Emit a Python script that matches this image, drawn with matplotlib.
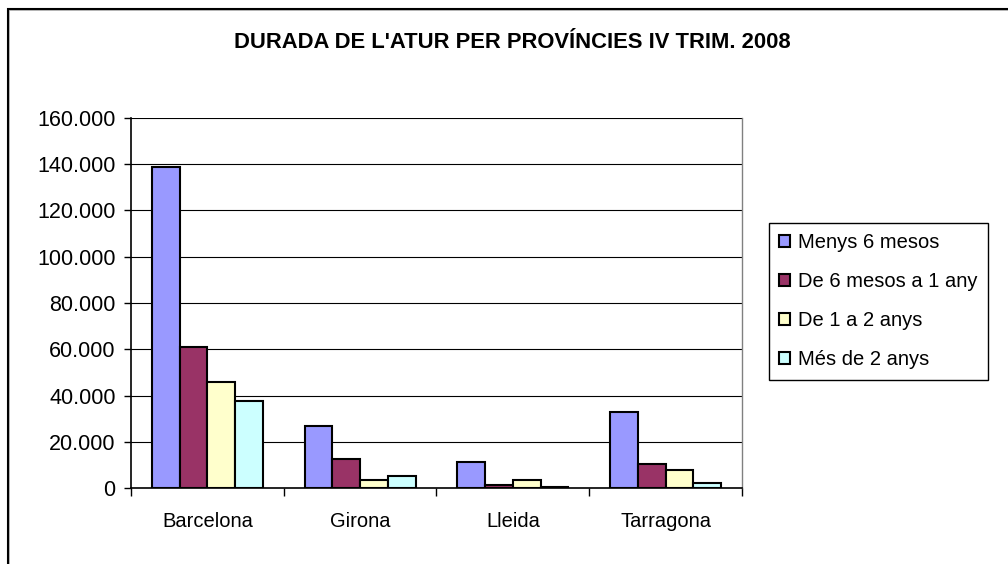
import matplotlib.pyplot as plt
import matplotlib.patches as patches
from matplotlib.ticker import FuncFormatter
import numpy as np

plt.rcParams['font.family'] = ['Liberation Sans', 'DejaVu Sans']

provincies = ['Barcelona', 'Girona', 'Lleida', 'Tarragona']
series = ['Menys 6 mesos', 'De 6 mesos a 1 any', 'De 1 a 2 anys', 'Més de 2 anys']
menys_6 = [138900, 26800, 11400, 33000]
de_6m_1a = [61100, 12400, 1500, 10400]
de_1a_2a = [45700, 3500, 3500, 7800]
mes_2a = [37600, 5200, 600, 2300]
colors = ['#9999FF', '#993366', '#FFFFCC', '#CCFFFF']

W, H = 1008, 564
fig = plt.figure(figsize=(W / 100, H / 100), dpi=100)

# outer chart frame (runs off the right and bottom edge)
fig.add_artist(patches.Rectangle((9 / W, -0.1), 1.2, (H - 10) / H + 0.1, transform=fig.transFigure,
                                 fill=False, ec='#b0b0b0', lw=1.2))
fig.add_artist(patches.Rectangle((8 / W, -0.1), 1.2, (H - 9) / H + 0.1, transform=fig.transFigure,
                                 fill=False, ec='black', lw=1.5))

x0, x1, y0, y1 = 131, 742, 118, 488
ax = fig.add_axes([x0 / W, (H - y1) / H, (x1 - x0) / W, (y1 - y0) / H])

x = np.arange(len(provincies))
w = 1 / 5.5
for i, (vals, name) in enumerate(zip([menys_6, de_6m_1a, de_1a_2a, mes_2a], series)):
    ax.bar(x + (i - 1.5) * w, vals, w, color=colors[i], edgecolor='black', linewidth=1.5,
           label=name, zorder=3)

ax.set_xlim(-0.5, 3.5)
ax.set_ylim(0, 160000)
ax.set_yticks(np.arange(0, 160001, 20000))
ax.yaxis.set_major_formatter(FuncFormatter(lambda v, p: f'{int(v):,}'.replace(',', '.')))
ax.grid(axis='y', color='black', lw=0.8, zorder=0)

ax.set_xticks(x)
ax.set_xticklabels(provincies)
ax.set_xticks(np.arange(-0.5, 3.6, 1), minor=True)
ax.tick_params(axis='x', which='major', length=0, pad=17, labelsize=14.5)
ax.tick_params(axis='x', which='minor', length=6, width=1, direction='out')
ax.tick_params(axis='y', length=5, width=1, direction='out', pad=6, labelsize=15.5)

for s in ['top', 'right']:
    ax.spines[s].set_color('#808080')
    ax.spines[s].set_linewidth(1)
for s in ['left', 'bottom']:
    ax.spines[s].set_color('black')
    ax.spines[s].set_linewidth(1.2)
ax.spines['top'].set_visible(False)

fig.text(512 / W, 1 - 43 / H, "DURADA DE L'ATUR PER PROVÍNCIES IV TRIM. 2008",
         ha='center', va='center', fontsize=15.8, fontweight='bold')

leg = fig.legend(loc='upper left', bbox_to_anchor=(769 / W, 1 - 223 / H), fontsize=14.5,
                 frameon=True, fancybox=False, edgecolor='black', framealpha=1,
                 handlelength=0.55, handleheight=0.55, handletextpad=0.4,
                 labelspacing=1.0, borderpad=0.5, borderaxespad=0)
leg.get_frame().set_linewidth(1)

fig.savefig('out.png', dpi=100)
